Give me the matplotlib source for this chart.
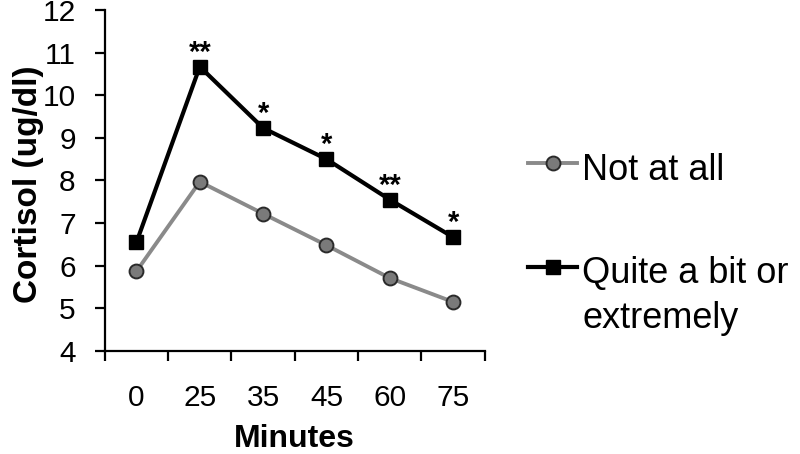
import matplotlib
matplotlib.use("Agg")
import matplotlib.pyplot as plt
from matplotlib.lines import Line2D

plt.rcParams['font.family'] = ['Liberation Sans', 'DejaVu Sans']

# data
minutes = ['0', '25', '35', '45', '60', '75']
not_at_all = [5.87, 7.97, 7.22, 6.48, 5.71, 5.15]
quite_a_bit = [6.55, 10.67, 9.23, 8.50, 7.55, 6.67]
stars = ['', '**', '*', '*', '**', '*']

x = list(range(len(minutes)))

fig = plt.figure(figsize=(8, 4.54), dpi=100)
ax = fig.add_axes([0.131, 0.227, 0.475, 0.751])

grey_style = dict(color='#8a8a8a', lw=2.8, marker='o', ms=10,
                  mfc='#7a7a7a', mec='#2a2a2a', mew=1.4)
black_style = dict(color='black', lw=3.0, marker='s', ms=10.5,
                   mfc='black', mec='black')

ax.plot(x, not_at_all, **grey_style, zorder=3)
ax.plot(x, quite_a_bit, **black_style, zorder=4)

# significance stars above the black series
for xi, yi, s in zip(x, quite_a_bit, stars):
    if s:
        ax.annotate(s, (xi, yi), xytext=(0, 0), textcoords='offset points',
                    ha='center', va='bottom', fontsize=21, fontweight='bold')

ax.set_xlim(-0.5, len(minutes) - 0.5)
ax.set_ylim(4, 12)
ax.set_yticks(range(4, 13))
ax.set_xticks(x)
ax.set_xticklabels(minutes)
ax.set_xticks([i - 0.5 for i in range(len(minutes) + 1)], minor=True)

ax.spines['top'].set_visible(False)
ax.spines['right'].set_visible(False)
ax.spines['left'].set_linewidth(1.6)
ax.spines['bottom'].set_linewidth(1.6)

ax.tick_params(axis='y', length=7, width=1.6, pad=14, labelsize=21.5)
ax.tick_params(axis='x', which='major', length=0, pad=24, labelsize=21.5)
ax.tick_params(axis='x', which='minor', length=7, width=1.6)

ax.set_xlabel('Minutes', fontsize=23, fontweight='bold', va='baseline')
ax.xaxis.set_label_coords(0.5, (351 - 447) / 341)
ax.set_ylabel('Cortisol (ug/dl)', fontsize=24, fontweight='bold', va='center')
ax.yaxis.set_label_coords((29 - 105) / 380, 0.49)

# legend, drawn by hand so the handle sits on the first text line
def legend_entry(y_px, style):
    y = 1 - y_px / 454
    h = Line2D([528 / 800, 552.5 / 800, 577 / 800], [y, y, y],
               transform=fig.transFigure, markevery=[1], **style)
    fig.add_artist(h)

legend_entry(163, grey_style)
legend_entry(267, black_style)
fig.text(582 / 800, 1 - 180 / 454, 'Not at all', fontsize=26, va='baseline')
fig.text(582 / 800, 1 - 283 / 454, 'Quite a bit or', fontsize=26, va='baseline')
fig.text(582 / 800, 1 - 328 / 454, 'extremely', fontsize=26, va='baseline')

fig.savefig('out.png', dpi=100)
